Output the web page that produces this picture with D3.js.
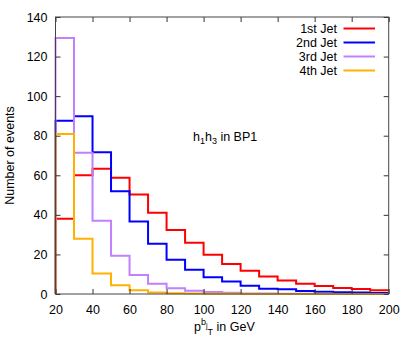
<!DOCTYPE html>
<meta charset="utf-8">
<body style="margin:0;background:#fff">
<svg width="409" height="354"></svg>
<script src="https://cdnjs.cloudflare.com/ajax/libs/d3/7.8.5/d3.min.js"></script>
<script>

// bin lower edges (GeV), each bin is 10 wide
var binEdges = [20,30,40,50,60,70,80,90,100,110,120,130,140,150,160,170,180,190];

var jet1 = [38,60,63.3,58.7,50.3,41.1,32.3,25.9,19.8,15.1,11.8,8.8,6.8,5.2,4.1,3.0,2.5,1.9];
var jet2 = [87.6,89.8,71.6,51.9,36.7,25.4,17.3,12.2,8.5,6.3,4.2,2.7,2.4,1.5,1.2,0.9,0.7,0.5];
var jet3 = [129.4,71.4,37,19.3,9.6,5.2,2.9,1.7,1.0,0.6,0.3,0.2,0.15,0.1,0.1,0.05,0.05,0.05];
var jet4 = [80.9,27.9,10.3,4.4,1.9,0.8,0.4,0.2,0.1,0.1,0.05,0.05,0,0,0,0,0,0];

var seriesNames = ["1st Jet","2nd Jet","3rd Jet","4th Jet"];
var seriesColors = ["#ff0000","#0000ff","#c080ff","#ffb000"];
var xTicks = [20,40,60,80,100,120,140,160,180,200];
var yTicks = [0,20,40,60,80,100,120,140];

var svg = d3.select("svg");
var margin = {top: 17, right: 20, bottom: 60, left: 55.5};
var width = 388.7 - margin.left;
var height = 294 - margin.top;
var g = svg.append("g").attr("transform", "translate(" + margin.left + "," + margin.top + ")");

var x = d3.scaleLinear().domain([20, 200]).range([0, width]);
var y = d3.scaleLinear().domain([0, 140]).range([height, 0]);

var font = "'Liberation Sans', Arial, sans-serif";

// histogram steps
var step = d3.line().x(d => x(d[0])).y(d => y(d[1]));
function stepPoints(vals) {
  var pts = [[binEdges[0], 0]];
  vals.forEach(function(v, i) {
    pts.push([binEdges[i], v]);
    pts.push([binEdges[i] + 10, v]);
  });
  return pts;
}

[jet1, jet2, jet3, jet4].forEach(function(vals, i) {
  g.append("path")
    .attr("d", step(stepPoints(vals)))
    .attr("fill", "none")
    .attr("stroke", seriesColors[i])
    .attr("stroke-width", 2);
});

// axes, ticks inward on all sides
function styleAxis(sel) {
  sel.selectAll("path").remove();
  sel.selectAll("line").attr("stroke", "#333");
  sel.selectAll("text").attr("font-family", font).attr("font-size", 12.5).attr("fill", "#000");
}
g.append("g").attr("transform", "translate(0," + height + ")")
  .call(d3.axisBottom(x).tickValues(xTicks).tickSize(-5).tickPadding(11))
  .call(styleAxis);
g.append("g")
  .call(d3.axisLeft(y).tickValues(yTicks).tickSize(-5).tickPadding(8))
  .call(styleAxis);
g.append("g")
  .call(d3.axisTop(x).tickValues(xTicks).tickSize(-5).tickFormat(""))
  .call(styleAxis);
g.append("g").attr("transform", "translate(" + width + ",0)")
  .call(d3.axisRight(y).tickValues(yTicks).tickSize(-5).tickFormat(""))
  .call(styleAxis);

g.append("rect")
  .attr("width", width).attr("height", height)
  .attr("fill", "none").attr("stroke", "#444").attr("stroke-width", 1);

// legend
var legend = g.append("g");
seriesNames.forEach(function(name, i) {
  var ly = 28.5 - margin.top + i * 14;
  legend.append("text")
    .attr("x", 337 - margin.left).attr("y", ly + 4.5)
    .attr("text-anchor", "end")
    .attr("font-family", font).attr("font-size", 12.5)
    .text(name);
  legend.append("line")
    .attr("x1", 343.5 - margin.left).attr("x2", 375 - margin.left)
    .attr("y1", ly).attr("y2", ly)
    .attr("stroke", seriesColors[i]).attr("stroke-width", 2);
});

// annotation
var ann = svg.append("text")
  .attr("x", 193).attr("y", 141)
  .attr("font-family", font).attr("font-size", 12.5);
ann.append("tspan").text("h");
ann.append("tspan").attr("font-size", 9).attr("dy", 3).text("1");
ann.append("tspan").attr("dy", -3).text("h");
ann.append("tspan").attr("font-size", 9).attr("dy", 3).text("3");
ann.append("tspan").attr("dy", -3).text(" in BP1");

// axis titles
svg.append("text")
  .attr("transform", "translate(14," + (margin.top + height / 2) + ") rotate(-90)")
  .attr("text-anchor", "middle")
  .attr("font-family", font).attr("font-size", 12.5)
  .text("Number of events");

var xl = svg.append("text")
  .attr("x", 194).attr("y", 331)
  .attr("font-family", font).attr("font-size", 12.5);
xl.append("tspan").text("p");
xl.append("tspan").attr("font-size", 9).attr("dy", -6).text("b");
xl.append("tspan").attr("font-size", 7).attr("dy", 3).text("j");
xl.append("tspan").attr("font-size", 9).attr("dy", 7).text("T");
xl.append("tspan").attr("dy", -4).text(" in GeV");

</script>
</body>
